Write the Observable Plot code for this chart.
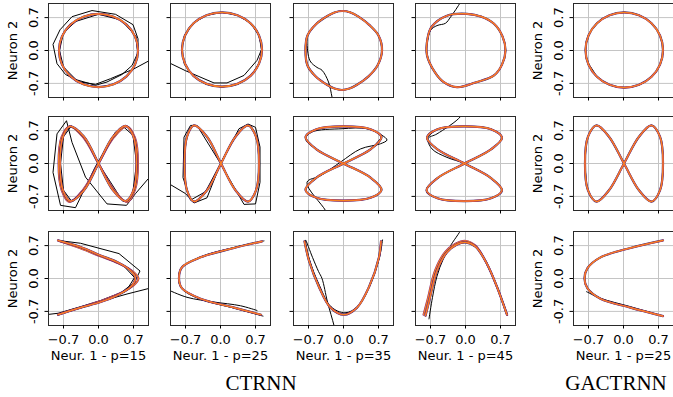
<!DOCTYPE html>
<html><head><meta charset="utf-8">
<script src="https://cdn.jsdelivr.net/npm/d3@7"></script>
<script src="https://cdn.jsdelivr.net/npm/@observablehq/plot@0.6"></script>
<style>
body{margin:0;background:#fff;}
#chart{position:relative;width:673px;height:397px;overflow:hidden;background:#fff;font-family:"DejaVu Sans",sans-serif;}
.group-title{position:absolute;top:373px;font-family:"Liberation Serif","Times New Roman",serif;font-size:21px;color:#000;transform:translateX(-50%);white-space:nowrap;line-height:1;}
</style></head><body><div id="chart"></div><script>
// ---- tick values and labels ----
const tickValues = [-0.7, 0, 0.7];
const xTickLabels = ["\u22120.7", "0.0", "0.7"];
const yTickLabels = ["-0.7", "0.0", "0.7"];
const xLabels = ["Neur. 1 - p=15", "Neur. 1 - p=25", "Neur. 1 - p=35", "Neur. 1 - p=45", "Neur. 1 - p=25"];
const yLabel = "Neuron 2";
const groupTitles = ["CTRNN", "GACTRNN"];

// ---- row 1: circle ----
const circle_p15 = [[.79,0],[.73,.30],[.56,.55],[.30,.72],[0,.78],[-.30,.72],[-.56,.55],[-.73,.30],[-.79,0],[-.73,-.30],[-.56,-.55],[-.30,-.72],[0,-.78],[.30,-.72],[.56,-.55],[.73,-.30]];
const circle_p15_black = [[1.05,-0.2],[0.99,-0.23],[0.71,-0.39],[0.24,-0.60],[-0.06,-0.72],[-0.36,-0.67],[-0.66,-0.51],[-0.83,-0.28],[-0.91,0.13],[-0.77,0.44],[-0.53,0.72],[-0.13,0.85],[0.34,0.77],[0.69,0.55],[0.79,0.25],[0.79,-0.04],[0.67,-0.32],[0.47,-0.51],[0.17,-0.67],[-0.06,-0.74],[-0.45,-0.62],[-0.70,-0.35],[-0.78,0],[-0.70,0.38],[-0.45,0.62],[0,0.77],[0.45,0.65],[0.75,0.3],[0.78,0]];
const circle_p25 = [[.83,.02],[.77,.32],[.60,.58],[.34,.75],[.03,.81],[-.28,.75],[-.54,.58],[-.71,.32],[-.77,.02],[-.71,-.28],[-.54,-.54],[-.28,-.71],[.03,-.77],[.34,-.71],[.60,-.54],[.77,-.28]];
const circle_p25_black = [[-1.05,-0.25],[-0.70,-0.43],[-0.33,-0.60],[-0.13,-0.69],[0.13,-0.69],[0.47,-0.53],[0.73,-0.21],[0.82,0.02],[0.77,0.32],[0.60,0.58],[0.34,0.75],[0.03,0.81],[-0.28,0.75],[-0.54,0.58],[-0.72,0.32],[-0.78,0.02],[-0.72,-0.30],[-0.54,-0.55],[-0.28,-0.72],[0.03,-0.78],[0.34,-0.72],[0.60,-0.55],[0.77,-0.28],[0.83,0.02]];
const circle_p35 = [[-0.03,0.84],[0.14,0.81],[0.30,0.72],[0.52,0.54],[0.70,0.32],[0.77,0],[0.68,-0.32],[0.50,-0.55],[0.27,-0.73],[0.12,-0.81],[-0.03,-0.84],[-0.18,-0.81],[-0.33,-0.73],[-0.55,-0.56],[-0.72,-0.32],[-0.76,0],[-0.72,0.32],[-0.55,0.56],[-0.33,0.73],[-0.18,0.81]];
const circle_p35_black = [[-0.2,-1.15],[-0.23,-0.99],[-0.3,-0.67],[-0.43,-0.42],[-0.53,-0.36],[-0.67,-0.22],[-0.73,0.2],[-0.72,0.32],[-0.55,0.56],[-0.33,0.73],[-0.18,0.81],[-0.03,0.84],[0.14,0.81],[0.30,0.72],[0.52,0.54],[0.70,0.32],[0.77,0],[0.68,-0.32],[0.50,-0.55],[0.27,-0.73],[0.12,-0.81],[-0.03,-0.84],[-0.18,-0.81],[-0.33,-0.73],[-0.55,-0.56],[-0.72,-0.32],[-0.76,0],[-0.72,0.32]];
const circle_p45 = [[0.03,0.78],[0.32,0.72],[0.57,0.57],[0.74,0.3],[0.8,0],[0.73,-0.3],[0.57,-0.53],[0.2,-0.68],[-0.17,-0.78],[-0.45,-0.66],[-0.62,-0.45],[-0.77,-0.1],[-0.76,0.25],[-0.68,0.5],[-0.37,0.74]];
const circle_p45_black = [[-0.05,1.15],[-0.10,1.03],[-0.3,0.71],[-0.4,0.58],[-0.57,0.53],[-0.7,0.43],[-0.77,0.14],[-0.77,-0.1],[-0.62,-0.45],[-0.45,-0.66],[-0.17,-0.78],[0.2,-0.68],[0.57,-0.53],[0.73,-0.3],[0.8,0],[0.74,0.3],[0.57,0.57],[0.32,0.72],[0.03,0.78],[-0.37,0.74],[-0.68,0.5],[-0.77,0.14]];
const circle_gac = [[.79,.01],[.73,.32],[.56,.58],[.31,.75],[.015,.81],[-.28,.75],[-.53,.58],[-.70,.32],[-.76,.01],[-.70,-.30],[-.53,-.56],[-.28,-.73],[.015,-.79],[.31,-.73],[.56,-.56],[.73,-.30]];
const circle_gac_black = [[-0.73,-0.2],[-0.67,-0.33],[-0.6,-0.44],[-0.53,-0.56],[-0.28,-0.73],[0.015,-0.79],[0.31,-0.73],[0.56,-0.56],[0.73,-0.30],[0.79,0.01],[0.73,0.32],[0.56,0.58],[0.31,0.75],[0.015,0.81],[-0.28,0.75],[-0.53,0.58],[-0.70,0.32],[-0.76,0.01],[-0.73,-0.2]];

// ---- row 2: figure eight ----
const eight_p15 = [[.76,0],[.70,.57],[.54,.8],[.29,.57],[0,0],[-.29,-.57],[-.56,-.8],[-.71,-.57],[-.77,0],[-.71,.57],[-.57,.79],[-.29,.57],[0,0],[.29,-.57],[.54,-.8],[.70,-.57]];
const eight_p15_var = [[.79,0],[.73,.55],[.57,.79],[.31,.56],[0,0],[-.31,-.56],[-.58,-.82],[-.74,-.56],[-.8,0],[-.74,.56],[-.58,.79],[-.31,.56],[0,0],[.31,-.56],[.57,-.82],[.73,-.56]];
const eight_p15_black = [[1.05,-0.28],[0.99,-0.33],[0.74,-0.64],[0.56,-0.89],[0.17,-0.86],[-0.26,-0.29],[-0.53,0.45],[-0.64,0.91],[-0.83,0.63],[-0.91,-0.19],[-0.76,-0.89],[-0.46,-0.94],[-0.07,-0.08],[0.34,0.67],[0.51,0.77],[0.69,0.6],[0.76,0],[0.67,-0.75],[0.49,-0.81],[0,0],[-0.3,0.6],[-0.54,0.8],[-0.70,0.57],[-0.76,0],[-0.70,-0.57],[-0.54,-0.8],[-0.3,-0.6],[0,0],[0.3,0.6],[0.54,0.8]];
const eight_p25 = [[.77,0],[.71,.57],[.55,.81],[.30,.57],[.01,0],[-.27,-.57],[-.53,-.81],[-.67,-.57],[-.72,0],[-.67,.57],[-.53,.81],[-.27,.57],[.01,0],[.30,-.57],[.55,-.81],[.71,-.57]];
const eight_p25_black = [[-1.05,-0.47],[-1.0,-0.45],[-0.7,-0.64],[-0.53,-0.84],[-0.27,-0.73],[0,0],[0.37,0.74],[0.55,0.84],[0.7,0.77],[0.79,0.35],[0.79,-0.4],[0.7,-0.86],[0.47,-0.87],[0,0],[-0.47,0.81],[-0.6,0.81],[-0.73,0.56],[-0.75,-0.3],[-0.6,-0.78],[-0.3,-0.6],[0,0],[0.3,0.58]];
const eight_p35 = [[0,.79],[.54,.73],[.76,.56],[.54,.30],[0,0],[-.54,-.30],[-.76,-.56],[-.54,-.73],[0,-.79],[.54,-.73],[.76,-.56],[.54,-.30],[0,0],[-.54,.30],[-.76,.56],[-.54,.73]];
const eight_p35_black = [[-0.3,-1.15],[-0.36,-1.0],[-0.73,-0.40],[-0.46,-0.26],[-0.06,0.03],[0.34,0.31],[0.74,0.42],[0.87,0.5],[0.77,0.6],[0.47,0.74],[-0.03,0.74],[-0.63,0.67],[-0.76,0.53],[-0.54,0.30],[0,0],[0.54,-0.30],[0.76,-0.56],[0.54,-0.73],[0,-0.79],[-0.54,-0.73],[-0.76,-0.56],[-0.54,-0.30],[0,0],[0.54,0.3],[0.76,0.56]];
const eight_p45 = [[-.02,.79],[.51,.73],[.73,.55],[.51,.30],[-.02,0],[-.56,-.31],[-.78,-.57],[-.56,-.74],[-.02,-.80],[.51,-.74],[.73,-.57],[.51,-.31],[-.02,0],[-.56,.30],[-.77,.55],[-.56,.73]];
const eight_p45_black = [[-0.05,1.15],[-0.1,1.0],[-0.57,0.63],[-0.75,0.53],[-0.67,0.31],[-0.37,0.13],[-0.02,0],[0.51,-0.31],[0.73,-0.57],[0.51,-0.74],[-0.02,-0.80],[-0.56,-0.74],[-0.78,-0.57],[-0.56,-0.31],[-0.02,0],[0.51,0.30],[0.73,0.55],[0.51,0.73],[-0.02,0.79],[-0.56,0.73],[-0.76,0.55]];
const eight_gac = [[.79,0],[.73,.57],[.56,.81],[.31,.57],[.01,0],[-.29,-.57],[-.54,-.81],[-.71,-.57],[-.77,0],[-.71,.57],[-.54,.81],[-.29,.57],[.01,0],[.31,-.57],[.56,-.81],[.73,-.57]];
const eight_gac_black = [[-0.76,-0.15],[-0.71,-0.57],[-0.54,-0.81],[-0.29,-0.57],[.01,0],[.31,.57],[.56,.81],[.73,.57],[.79,0],[.73,-.57],[.56,-.81],[.31,-.57],[.01,0],[-.29,.57],[-.54,.81],[-.71,.57],[-.77,0]];

// ---- row 3: parabola ----
const parab_p15 = [[-0.81,0.81],[-0.36,0.67],[0.04,0.49],[0.37,0.35],[0.64,0.17],[0.74,0.0],[0.64,-0.18],[0.37,-0.36],[0.04,-0.5],[-0.36,-0.62],[-0.81,-0.77]];
const parab_p15_var = [[-0.8,0.8],[-0.36,0.64],[0.04,0.47],[0.4,0.32],[0.7,0.14],[0.8,0.0],[0.7,-0.15],[0.4,-0.33],[0.04,-0.48],[-0.36,-0.62],[-0.8,-0.76]];
const parab_p15_black = [[-1.05,-0.77],[-0.81,-0.74],[-0.36,-0.6],[0.04,-0.47],[0.45,-0.3],[0.72,-0.08],[0.83,0.16],[0.41,0.53],[-0.36,0.75],[-0.81,0.81],[-0.36,0.66],[0.04,0.48],[0.5,0.27],[0.72,0.02],[0.55,-0.27],[0.04,-0.5],[-0.43,-0.64],[-0.81,-0.78],[NaN,NaN],[1.05,-0.2],[0.57,-0.33],[0.04,-0.49]];
const parab_p25 = [[0.83,0.79],[0.27,0.65],[-0.4,0.45],[-0.77,0.24],[-0.83,0.0],[-0.77,-0.21],[-0.4,-0.43],[0.27,-0.62],[0.81,-0.77]];
const parab_p25_black = [[-1.05,-0.24],[-0.67,-0.4],[-0.13,-0.5],[0.4,-0.58],[0.73,-0.68],[NaN,NaN],[0.87,0.8],[0.27,0.66],[-0.4,0.46],[-0.78,0.22],[-0.84,0.0],[-0.77,-0.22],[-0.4,-0.44],[0.27,-0.63],[0.85,-0.8]];
const parab_p35 = [[-0.78,0.79],[-0.69,0.38],[-0.49,-0.18],[-0.26,-0.62],[0.01,-0.77],[0.27,-0.62],[0.51,-0.18],[0.71,0.45],[0.75,0.79]];
const parab_p35_black = [[0.78,0.82],[0.72,0.45],[0.52,-0.17],[0.28,-0.6],[0.03,-0.73],[-0.25,-0.6],[-0.48,-0.15],[-0.68,0.4],[-0.76,0.82],[-0.62,0.45],[-0.5,0.15],[-0.43,0],[-0.32,-0.5],[-0.19,-1.0],[-0.15,-1.2]];
const parab_p45 = [[-0.8,-0.79],[-0.72,-0.45],[-0.57,0.17],[-0.37,0.56],[-0.18,0.72],[0,0.77],[0.2,0.68],[0.43,0.31],[0.63,-0.18],[0.83,-0.77]];
const parab_p45_var = [[-0.84,-0.77],[-0.76,-0.45],[-0.61,0.17],[-0.41,0.56],[-0.2,0.74],[0,0.8],[0.2,0.7],[0.43,0.31],[0.63,-0.18],[0.83,-0.77]];
const parab_p45_black = [[-0.05,1.15],[-0.1,1.02],[-0.3,0.68],[-0.18,0.75],[0,0.78],[0.2,0.69],[0.43,0.31],[0.63,-0.18],[0.84,-0.78],[NaN,NaN],[-0.3,0.68],[-0.45,0.4],[-0.57,0.05],[-0.66,-0.4],[-0.73,-0.86]];
const parab_gac = [[0.79,0.81],[0.14,0.65],[-0.46,0.45],[-0.72,0.22],[-0.78,0.0],[-0.72,-0.21],[-0.46,-0.43],[0.14,-0.62],[0.79,-0.8]];
const parab_gac_black = [[-0.74,-0.28],[-0.46,-0.42],[0.14,-0.6],[0.79,-0.8]];

// ---- panel table ----
const rowsData = [
  [[circle_p15,null,circle_p15_black,"linear"],[circle_p25,null,circle_p25_black,"linear"],[circle_p35,null,circle_p35_black,"catmull-rom"],[circle_p45,null,circle_p45_black,"catmull-rom"],[circle_gac,null,circle_gac_black,"catmull-rom"]],
  [[eight_p15,eight_p15_var,eight_p15_black,"linear"],[eight_p25,null,eight_p25_black,"linear"],[eight_p35,null,eight_p35_black,"catmull-rom"],[eight_p45,null,eight_p45_black,"catmull-rom"],[eight_gac,null,eight_gac_black,"catmull-rom"]],
  [[parab_p15,parab_p15_var,parab_p15_black,"linear"],[parab_p25,null,parab_p25_black,"catmull-rom"],[parab_p35,null,parab_p35_black,"catmull-rom"],[parab_p45,parab_p45_var,parab_p45_black,"catmull-rom"],[parab_gac,null,parab_gac_black,"catmull-rom"]]
];
const closedRow = [true, true, false];

const colLeft = [48, 170, 293, 415, 573];
const rowTop = [3, 116, 231];
const W = 100, H = 94, mL = 50, mR = 6, mT = 6, mB = 46;
const cIndigo = "#2d1160", cMag = "#8c2981", cRed = "#de4968", cOrange = "#f8821f";

const chart = document.getElementById("chart");
const px = d => d[0], py = d => d[1];

rowsData.forEach((row, r) => {
  row.forEach(([base, variant, black, blackCurve], c) => {
    const curve = closedRow[r] ? "catmull-rom-closed" : "catmull-rom";
    const showY = (c === 0 || c === 4);
    const showX = (r === 2);
    const marks = [
      Plot.gridX(tickValues, {stroke: "#c4c4c4", strokeOpacity: 1, strokeWidth: 1}),
      Plot.gridY(tickValues, {stroke: "#c4c4c4", strokeOpacity: 1, strokeWidth: 1}),
      Plot.line(black, {x: px, y: py, stroke: "#000", strokeWidth: 1, curve: blackCurve, clip: true})
    ];
    if (variant) {
      marks.push(Plot.line(variant, {x: px, y: py, stroke: cMag, strokeWidth: 2, curve, clip: true}));
      marks.push(Plot.line(variant, {x: px, y: py, stroke: cOrange, strokeWidth: 1.1, curve, clip: true}));
    }
    marks.push(Plot.line(base, {x: px, y: py, stroke: cIndigo, strokeWidth: 2.2, curve, clip: true}));
    marks.push(Plot.line(base, {x: px, y: py, stroke: cRed, strokeWidth: 1.6, curve, clip: true}));
    marks.push(Plot.line(base, {x: px, y: py, stroke: cOrange, strokeWidth: 1.2, curve, clip: true}));
    marks.push(Plot.frame({stroke: "#2a2a2a", strokeWidth: 1}));
    marks.push(Plot.axisX({ticks: tickValues, tickSize: 3.5, tickPadding: 6, label: null,
      tickFormat: showX ? (d => xTickLabels[tickValues.indexOf(d)]) : (() => "")}));
    marks.push(Plot.axisY({ticks: tickValues, tickSize: 3.5, tickPadding: 7, label: null,
      tickRotate: showY ? -90 : 0,
      tickFormat: showY ? (d => yTickLabels[tickValues.indexOf(d)]) : (() => "")}));
    if (showX) marks.push(Plot.text([xLabels[c]], {frameAnchor: "bottom", dy: 34, text: d => d, fontSize: 13, fill: "#000", textAnchor: "middle"}));
    if (showY) marks.push(Plot.text([yLabel], {frameAnchor: "left", dx: -35.5, rotate: -90, text: d => d, fontSize: 13, fill: "#000", textAnchor: "middle"}));

    const svg = Plot.plot({
      width: W + mL + mR, height: H + mT + mB,
      marginLeft: mL, marginRight: mR, marginTop: mT, marginBottom: mB,
      x: {domain: [-1, 1]}, y: {domain: [-1, 1]},
      style: {background: "transparent", fontFamily: "'DejaVu Sans', sans-serif", fontSize: "13px", color: "#000", overflow: "visible", textAnchor: "middle"},
      marks
    });
    svg.style.position = "absolute";
    svg.style.left = (colLeft[c] - mL) + "px";
    svg.style.top = (rowTop[r] - mT) + "px";
    svg.style.maxWidth = "none";
    chart.appendChild(svg);
  });
});

const titleX = [261, 616];
groupTitles.forEach((t, i) => {
  const div = document.createElement("div");
  div.className = "group-title";
  div.style.left = titleX[i] + "px";
  div.textContent = t;
  chart.appendChild(div);
});
</script></body></html>
